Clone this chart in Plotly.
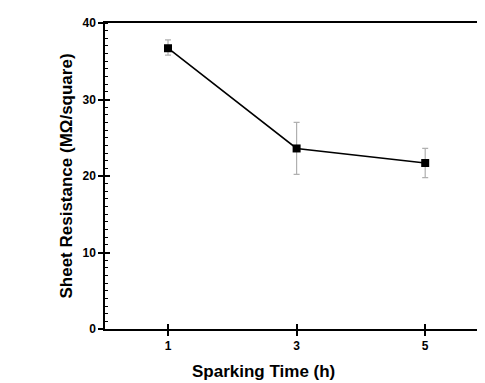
import plotly.graph_objects as go

time_h = [1, 3, 5]
resistance = [36.7, 23.6, 21.7]
err_plus = [1.1, 3.4, 1.9]
err_minus = [0.9, 3.4, 1.9]
x_ticks = [1, 3, 5]
y_ticks = [0, 10, 20, 30, 40]

fig = go.Figure()
fig.add_trace(go.Scatter(
    x=time_h, y=resistance, mode="lines+markers",
    line=dict(color="black", width=1.6),
    marker=dict(symbol="square", size=8, color="black"),
    error_y=dict(type="data", array=err_plus, arrayminus=err_minus,
                 color="#b0b0b0", thickness=1.2, width=3),
    showlegend=False,
))
fig.add_trace(go.Scatter(x=[None], y=[None], xaxis="x2", yaxis="y2", showlegend=False))

font_ticks = dict(family="Liberation Sans, Arial", size=12, color="black", weight="bold")
fig.update_layout(
    width=485, height=383,
    margin=dict(l=97, r=8, t=12, b=62),
    plot_bgcolor="white", paper_bgcolor="white",
    font=dict(family="Liberation Sans, Arial", color="black"),
    xaxis=dict(range=[0.02, 5.93], tickvals=x_ticks, ticks="outside", ticklen=5,
               tickwidth=1.5, tickcolor="black", showline=True, linecolor="black",
               linewidth=1.5, mirror=True, showgrid=False, zeroline=False,
               tickfont=font_ticks),
    yaxis=dict(range=[0, 40], tickmode="linear", tick0=y_ticks[0], dtick=10,
               ticks="outside", ticklen=5,
               tickwidth=1.5, tickcolor="black", showline=True, linecolor="black",
               linewidth=1.5, showgrid=False, zeroline=False,
               minor=dict(dtick=1, ticks="inside", ticklen=3, tickcolor="black", tickwidth=1),
               tickfont=font_ticks,
               title=dict(text="Sheet Resistance (MΩ/square)", standoff=6,
                          font=dict(family="Liberation Sans, Arial", size=17, weight="bold"))),
    xaxis2=dict(overlaying="x", range=[0.02, 5.93], tickvals=x_ticks, ticks="inside",
                ticklen=5, tickwidth=1.5, tickcolor="black", showticklabels=False,
                showgrid=False, zeroline=False, showline=False, side="bottom"),
    yaxis2=dict(overlaying="y", range=[0, 40], tickvals=y_ticks, ticks="inside",
                ticklen=5, tickwidth=1.5, tickcolor="black", showticklabels=False,
                showgrid=False, zeroline=False, showline=False, side="left"),
    annotations=[dict(text="<b>Sparking Time (h)</b>", xref="paper", yref="paper",
                      x=0.416, y=-0.139, xanchor="center", yanchor="middle", showarrow=False,
                      font=dict(family="Liberation Sans, Arial", size=17, color="black"))],
)
fig.write_html("out.html")
